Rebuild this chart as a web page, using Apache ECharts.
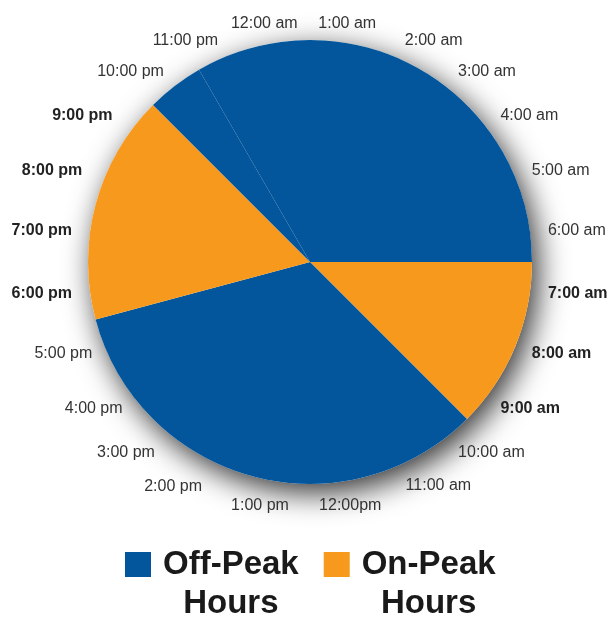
<!DOCTYPE html>
<html>
<head>
<meta charset="utf-8">
<script src="https://cdn.jsdelivr.net/npm/echarts@6/dist/echarts.min.js"></script>
<style>
  html, body { margin: 0; padding: 0; background: #ffffff; }
  #main { width: 608px; height: 620px; }
</style>
</head>
<body>
<div id="main"></div>
<script>
// Clock labels, clockwise starting with the slot just left of the top
const hourLabels = ['12:00 am', '1:00 am', '2:00 am', '3:00 am', '4:00 am', '5:00 am',
  '6:00 am', '7:00 am', '8:00 am', '9:00 am', '10:00 am', '11:00 am',
  '12:00pm', '1:00 pm', '2:00 pm', '3:00 pm', '4:00 pm', '5:00 pm',
  '6:00 pm', '7:00 pm', '8:00 pm', '9:00 pm', '10:00 pm', '11:00 pm'];
// each hour slot lasts one hour
const hourSlotLength = [1, 1, 1, 1, 1, 1, 1, 1, 1, 1, 1, 1, 1, 1, 1, 1, 1, 1, 1, 1, 1, 1, 1, 1];
// hours printed in bold (on-peak)
const boldHours = ['7:00 am', '8:00 am', '9:00 am', '6:00 pm', '7:00 pm', '8:00 pm', '9:00 pm'];

// Pie segments, clockwise starting at 11:00 pm
const segmentNames = ['Off-Peak Hours', 'On-Peak Hours', 'Off-Peak Hours', 'On-Peak Hours', 'Off-Peak Hours'];
const segmentHours = [8, 3, 8, 4, 1]; // 11pm-6am, 7-9am, 10am-5pm, 6-9pm, 10pm

const legendNames = ['Off-Peak Hours', 'On-Peak Hours'];

// ---- styles ----
const COLORS = { 'Off-Peak Hours': '#03569b', 'On-Peak Hours': '#f7991d' };
const CENTER = [310, 262];
const RADIUS = 222;
// horizontal label offsets (distance from label anchor) for hand-placed look
const labelShift = { '12:00 am': -19, '1:00 am': -23, '12:00pm': -23, '1:00 pm': -11,
  '2:00 am': 3, '3:00 am': 2, '10:00 am': 2, '11:00 am': 3,
  '9:00 pm': 7, '8:00 pm': 6, '5:00 pm': -4, '4:00 pm': -3, '3:00 pm': 9, '2:00 pm': 15 };
// radial label distance beyond the rim
const labelRadial = { '12:00pm': 24, '1:00 pm': 24, '2:00 pm': 21, '11:00 am': 20 };

const totalHours = segmentHours.reduce((a, b) => a + b, 0);

const chart = echarts.init(document.getElementById('main'), null, { renderer: 'canvas' });

const legendFont = { fontFamily: 'Liberation Sans, Arial, sans-serif', fontWeight: 'bold', fontSize: 33, lineHeight: 39, color: '#1a1a1a' };

chart.setOption({
  animation: false,
  backgroundColor: '#ffffff',
  legend: {
    data: legendNames,
    left: 125,
    top: 506,
    padding: 0,
    icon: 'rect',
    itemWidth: 26,
    itemHeight: 25,
    itemGap: 25,
    selectedMode: false,
    formatter: function (name) {
      const parts = name.split(' ');
      return '{a|' + parts[0] + '}\n{b|' + parts[1] + '}';
    },
    textStyle: Object.assign({}, legendFont, {
      padding: [39, 0, 0, 7],
      rich: {
        a: Object.assign({}, legendFont),
        b: Object.assign({ align: 'center' }, legendFont)
      }
    })
  },
  series: [
    {
      // drop shadow disc under the pie
      type: 'pie',
      name: 'shadow',
      center: CENTER,
      radius: RADIUS,
      silent: true,
      z: 1,
      label: { show: false },
      labelLine: { show: false },
      emphasis: { disabled: true },
      itemStyle: {
        color: '#ffffff',
        shadowBlur: 30,
        shadowColor: 'rgba(0,0,0,0.8)',
        shadowOffsetX: 6,
        shadowOffsetY: 9
      },
      data: [{ name: 'Day', value: totalHours }]
    },
    {
      type: 'pie',
      name: 'Hours',
      center: CENTER,
      radius: RADIUS,
      startAngle: 120,
      clockwise: true,
      silent: true,
      z: 2,
      label: { show: false },
      labelLine: { show: false },
      emphasis: { disabled: true },
      data: segmentNames.map(function (n, i) {
        return { name: n, value: segmentHours[i], itemStyle: { color: COLORS[n] } };
      })
    },
    {
      // clock labels
      type: 'pie',
      name: 'clock',
      center: CENTER,
      radius: RADIUS,
      startAngle: 105,
      clockwise: true,
      silent: true,
      z: 3,
      avoidLabelOverlap: false,
      emphasis: { disabled: true },
      itemStyle: { color: 'rgba(0,0,0,0)' },
      label: {
        show: true,
        position: 'outside',
        distanceToLabelLine: 0,
        fontFamily: 'Liberation Sans, Arial, sans-serif',
        fontSize: 16,
        color: '#333333',
        formatter: '{b}'
      },
      labelLine: { show: false, length: 18, length2: 0 },
      data: hourLabels.map(function (h, i) {
        const item = { name: h, value: hourSlotLength[i], label: {}, labelLine: {} };
        if (boldHours.indexOf(h) >= 0) {
          item.label.fontWeight = 'bold';
          item.label.color = '#222222';
        }
        if (labelShift[h] !== undefined) {
          item.label.distanceToLabelLine = labelShift[h];
        }
        if (labelRadial[h] !== undefined) {
          item.labelLine.length = labelRadial[h];
        }
        return item;
      })
    }
  ]
});
</script>
</body>
</html>
